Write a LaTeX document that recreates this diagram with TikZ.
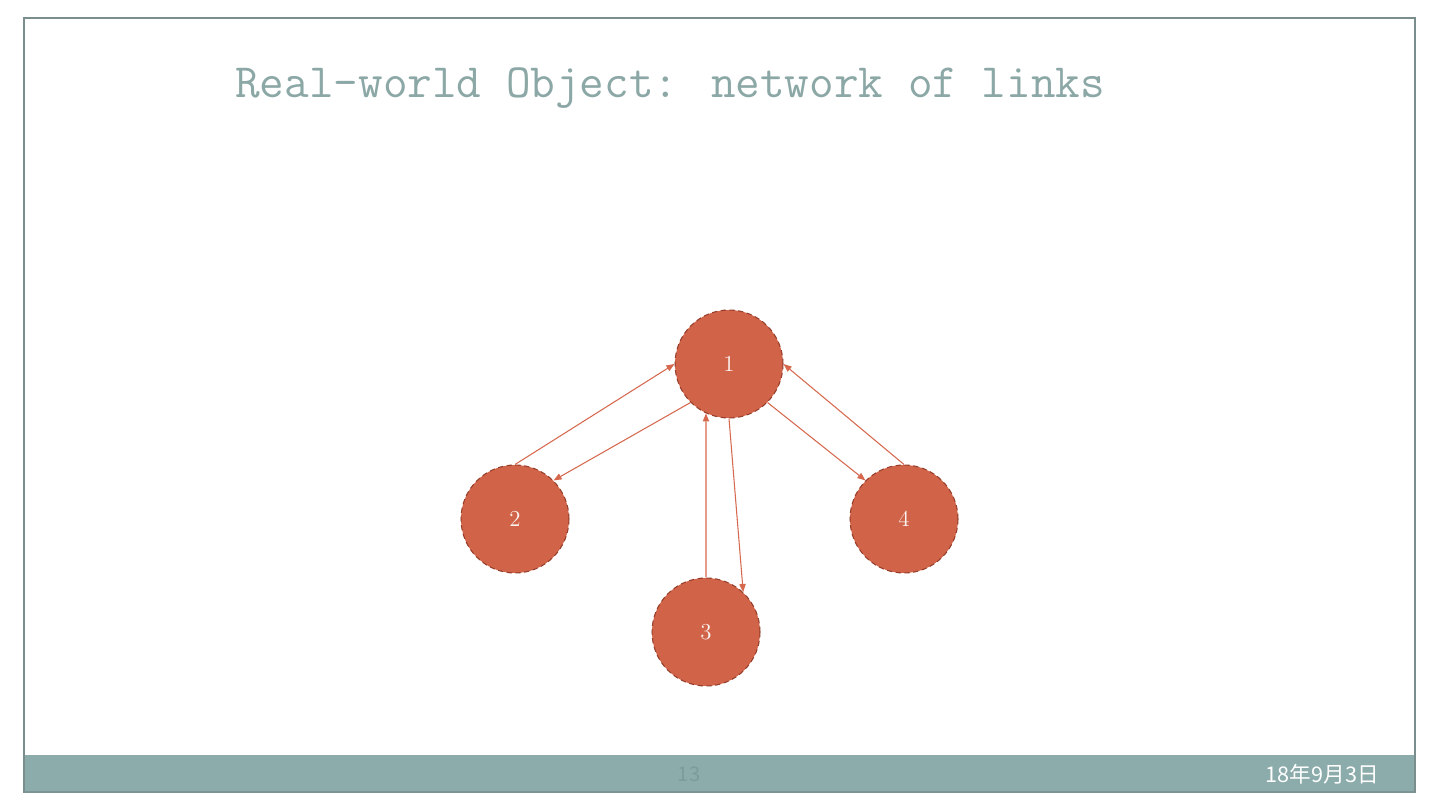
\documentclass[tikz,border=0pt]{standalone}
\usepackage{fontspec}
\usepackage{tikz}
\usetikzlibrary{arrows.meta,positioning}
\newfontfamily\cjkdate{Noto Sans CJK SC}
\definecolor{frameGray}{RGB}{122,142,142}
\definecolor{footTeal}{RGB}{139,172,170}
\definecolor{footDark}{RGB}{122,156,154}
\definecolor{titleTeal}{RGB}{120,152,150}
\definecolor{nodeRust}{RGB}{208,99,72}
\definecolor{rustEdge}{RGB}{150,62,42}
\definecolor{linkRust}{RGB}{214,104,78}
\tikzset{
  pageNode/.style={circle,fill=nodeRust,draw=rustEdge,densely dashed,line width=.6pt,
    minimum size=2.16cm,inner sep=0pt,text=white!92!nodeRust,font=\fontsize{13}{14}\selectfont},
  linkArrow/.style={draw=linkRust,line width=.6pt,-{Triangle[length=4.6pt,width=3.6pt]}}
}

\begin{document}
\begin{tikzpicture}[x=0.02cm,y=-0.02cm]
\useasboundingbox (0,0) rectangle (1440,810);
% slide frame and footer band
\fill[white] (0,0) rectangle (1440,810);
\fill[footTeal] (24,755) rectangle (1415,792);
\draw[frameGray,line width=.8pt] (24,792) -- (24,18) -- (1415,18) -- (1415,792) -- cycle;
\draw[frameGray!80!footTeal,line width=.8pt] (24,792) -- (1415,792);
\node[anchor=base west,inner sep=0pt,text=titleTeal!85,font=\ttfamily\fontsize{27.2}{30}\selectfont] (title) at (235,98) {Real-world Object: network of links};
\node[anchor=base,inner sep=0pt,text=footDark,font=\cjkdate\fontsize{11.5}{13}\selectfont] (pagenum) at (689,781) {13};
\node[anchor=base east,inner sep=0pt,text=white,font=\cjkdate\fontsize{12.3}{13}\selectfont] (date) at (1379,782) {18年9月3日};
% pages
\node[pageNode] (p1) at (729,364) {1};
\node[pageNode] (p2) at (515,519) {2};
\node[pageNode] (p3) at (706,632) {3};
\node[pageNode] (p4) at (904,519) {4};
% links
\draw[linkArrow] (p2.north) -- (p1.west);
\draw[linkArrow] (p1.225) -- (p2.45);
\draw[linkArrow] (p3.north) -- (p1.245);
\draw[linkArrow] (p1.south) -- (p3.47);
\draw[linkArrow] (p4.north) -- (p1.east);
\draw[linkArrow] (p1.-45) -- (p4.135);
\end{tikzpicture}
\end{document}
